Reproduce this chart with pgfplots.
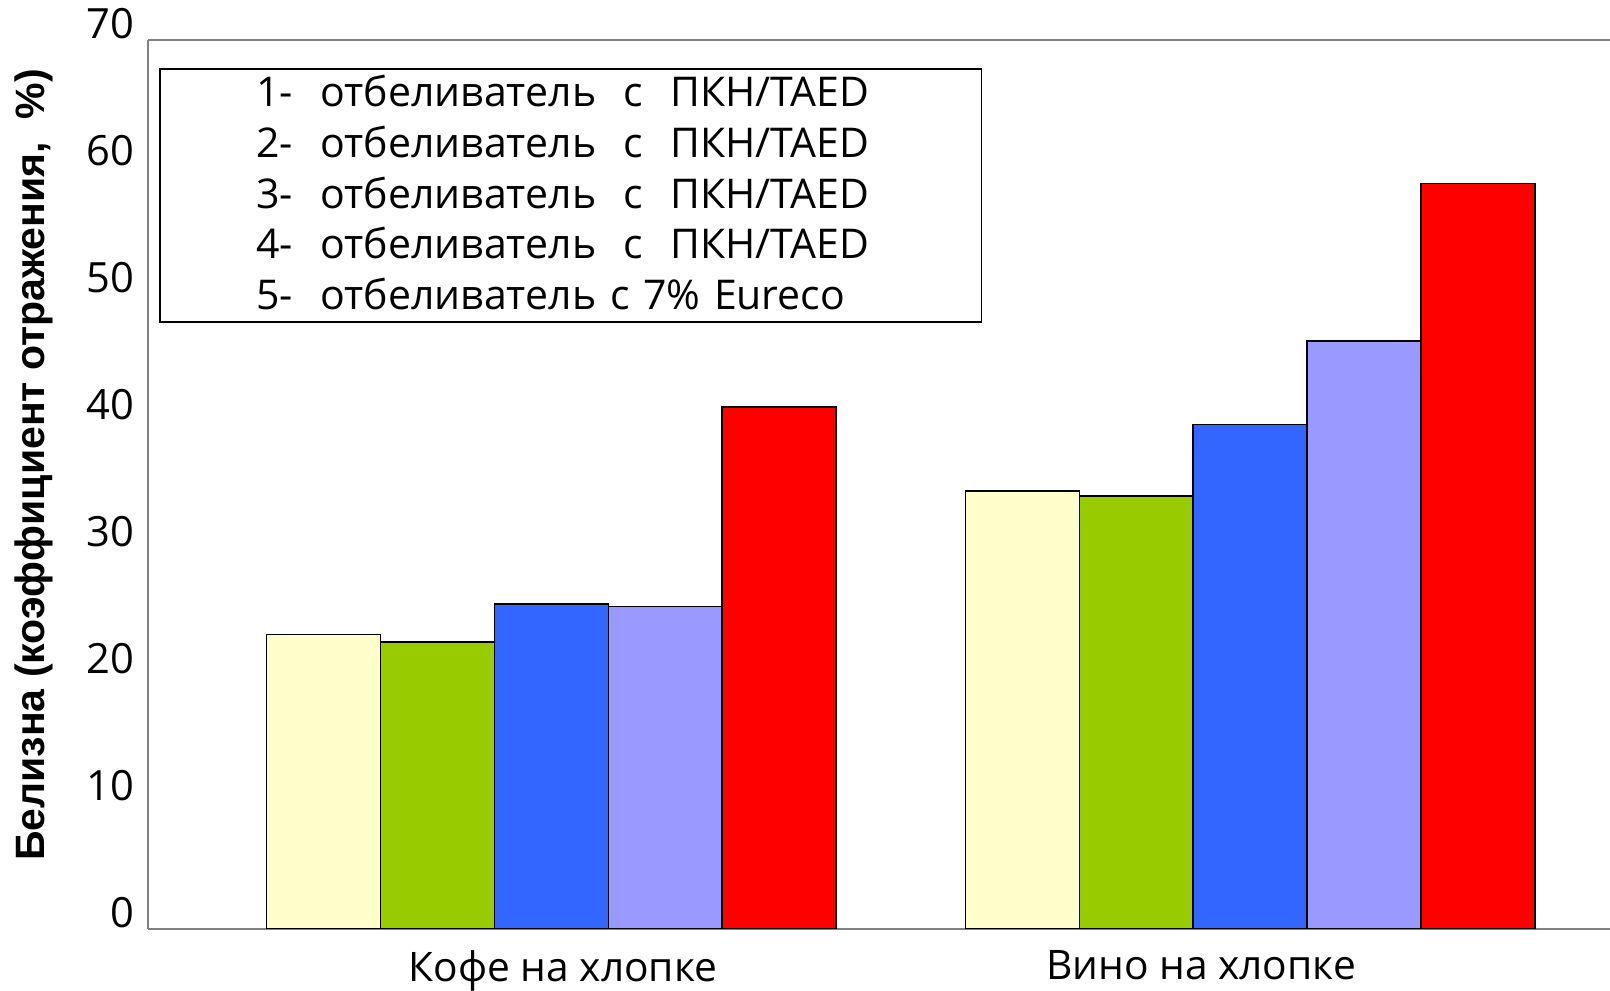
\documentclass[border=0pt]{standalone}
\usepackage{fontspec}
\setmainfont{Open Sans}
\newfontfamily\labfont{Liberation Sans}
\usepackage{pgfplots}
\pgfplotsset{compat=1.18}
\definecolor{c1}{HTML}{FFFFCC}
\definecolor{c2}{HTML}{99CC00}
\definecolor{c3}{HTML}{3366FF}
\definecolor{c4}{HTML}{9999FF}
\definecolor{c5}{HTML}{FF0000}
\definecolor{axgray}{HTML}{808080}
\newcommand{\tfont}{\fontsize{12.5}{15}\selectfont}
\begin{document}
\begin{tikzpicture}
\begin{axis}[name=A, scale only axis,
  width=438.6pt, height=266.7pt,
  xmin=-0.577, xmax=1.515, ymin=0, ymax=70,
  ybar=0pt, bar width=0.163,
  axis x line=box, axis y line=left,
  axis line style={-, draw=axgray, line width=0.6pt},
  every outer x axis line/.append style={-},
  every outer y axis line/.append style={-},
  xtick={0.017,0.93}, xticklabels={Кофе на хлопке, Вино на хлопке},
  ytick={0,10,...,70},
  major tick length=0pt,
  /pgf/number format/assume math mode=true,
  tick label style={font=\tfont},
  yticklabel style={yshift=5pt, xshift=-0.5pt},
  xticklabel style={yshift=-3pt, font=\fontsize{12.2}{15}\selectfont},
  ylabel={Белизна (коэффициент отражения,\ \ \%)},
  every axis y label/.style={at={(rel axis cs:-0.0780,0.522)}, rotate=90, anchor=center,
    font=\labfont\bfseries\fontsize{12.3}{14}\selectfont},
  legend cell align=left,
  legend image code/.code={\path[draw=none,fill=none] (0pt,0pt) -- (25pt,0pt);},
  legend style={at={(rel axis cs:0.0075,0.9685)}, anchor=north west,
    draw=black, line width=0.5pt, inner xsep=4pt, inner ysep=0pt,
    font=\fontsize{12.3}{15}\selectfont,
    nodes={inner xsep=0pt, inner ysep=0pt, text height=11.4pt, text depth=3.8pt, text width=213.5pt, align=left}},
]
\addplot[fill=c1, draw=black, line width=0.4pt] coordinates {(0,23.2) (1,34.5)};
\addplot[fill=c2, draw=black, line width=0.4pt] coordinates {(0,22.6) (1,34.1)};
\addplot[fill=c3, draw=black, line width=0.4pt] coordinates {(0,25.6) (1,39.7)};
\addplot[fill=c4, draw=black, line width=0.4pt] coordinates {(0,25.4) (1,46.3)};
\addplot[fill=c5, draw=black, line width=0.4pt] coordinates {(0,41.1) (1,58.7)};
\legend{1-\ \ отбеливатель\ \ с\ \ ПКН/TAED,
        2-\ \ отбеливатель\ \ с\ \ ПКН/TAED,
        3-\ \ отбеливатель\ \ с\ \ ПКН/TAED,
        4-\ \ отбеливатель\ \ с\ \ ПКН/TAED,
        5-\ \ отбеливатель с 7\% Eureco}
\end{axis}
\pgfresetboundingbox
\path (A.south west) ++(-44.4pt,-18.6pt) rectangle ++(483pt,297.3pt);
\end{tikzpicture}
\end{document}
